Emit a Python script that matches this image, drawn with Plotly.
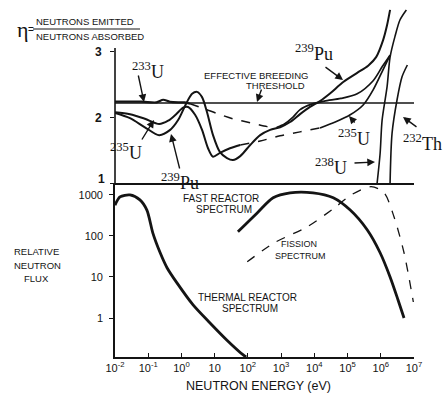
import plotly.graph_objects as go

# ---------------- data (log10 of neutron energy in eV, value) ----------------
# top panel: eta = neutrons emitted / neutrons absorbed
threshold_logE = [-2.0, 7.0]
threshold_eta = [2.22, 2.22]

pu239_logE = [-2.0, -1.55, -1.10, -0.67, -0.34, -0.10, 0.14, 0.32, 0.47, 0.62, 0.77, 0.95,
              1.16, 1.37, 1.55, 1.77, 2.07, 2.37, 2.67, 2.97, 3.27, 3.57, 3.87, 4.17, 4.48,
              4.87, 5.29, 5.62, 5.86, 6.07, 6.19, 6.28]
pu239_eta = [2.07, 1.99, 1.85, 1.73, 1.81, 1.96, 2.21, 2.36, 2.39, 2.31, 2.08, 1.73,
             1.47, 1.38, 1.35, 1.41, 1.58, 1.73, 1.81, 1.85, 1.93, 2.05, 2.16, 2.25, 2.37,
             2.54, 2.68, 2.79, 2.92, 3.18, 3.41, 3.64]

u235_logE_a = [-2.0, -1.55, -1.10, -0.67, -0.40, -0.16, 0.05, 0.20, 0.41, 0.62, 0.80, 0.95,
               1.16, 1.46, 1.77]
u235_eta_a = [2.08, 2.05, 1.98, 1.90, 1.95, 2.05, 2.15, 2.16, 2.04, 1.81, 1.53, 1.40,
              1.46, 1.53, 1.58]
u235_logE_dash = [1.77, 2.37, 2.97, 3.57, 4.17]
u235_eta_dash = [1.58, 1.64, 1.72, 1.78, 1.84]
u235_logE_b = [4.17, 4.63, 5.08, 5.47, 5.77, 6.07, 6.28]
u235_eta_b = [1.84, 1.93, 2.04, 2.19, 2.42, 2.73, 2.95]

u233_logE_a = [-2.0, -1.2, -0.75, -0.55, -0.35, -0.10, 0.10, 0.26]
u233_eta_a = [2.24, 2.24, 2.23, 2.27, 2.24, 2.23, 2.23, 2.21]
u233_logE_dash = [0.26, 0.70, 1.07, 1.55, 2.07, 2.58, 2.88]
u233_eta_dash = [2.21, 2.13, 2.06, 1.98, 1.92, 1.86, 1.85]
u233_logE_b = [2.88, 3.10, 3.35, 3.57, 3.90, 4.30, 4.80, 5.29, 5.77, 6.05, 6.28]
u233_eta_b = [1.85, 1.90, 2.00, 2.12, 2.20, 2.25, 2.29, 2.36, 2.56, 2.78, 2.95]

u238_logE = [5.89, 5.98, 6.04, 6.19, 6.28, 6.43, 6.58, 6.77]
u238_eta = [1.00, 1.45, 1.96, 2.47, 2.92, 3.24, 3.49, 3.64]

th232_logE = [6.28, 6.34, 6.49, 6.64, 6.80]
th232_eta = [1.00, 1.76, 2.27, 2.62, 2.80]

# bottom panel: relative neutron flux (log10 of flux)
thermal_logE = [-2.0, -1.85, -1.55, -1.25, -1.04, -0.86, -0.64, -0.43, -0.13, 0.35, 0.86,
                1.37, 1.86, 1.95]
thermal_logF = [2.75, 2.95, 3.00, 2.88, 2.63, 2.07, 1.59, 1.22, 0.85, 0.32, -0.12,
                -0.54, -0.90, -0.95]

fast_logE = [1.70, 2.28, 2.76, 3.27, 3.96, 4.57, 5.08, 5.59, 5.98, 6.28, 6.52, 6.70]
fast_logF = [2.10, 2.56, 2.93, 3.05, 3.05, 2.93, 2.63, 2.15, 1.59, 1.00, 0.44, 0.00]

fission_logE = [1.98, 2.79, 3.78, 4.60, 5.11, 5.71, 6.10, 6.40, 6.70, 6.98]
fission_logF = [1.37, 1.83, 2.22, 2.68, 3.00, 3.20, 3.05, 2.46, 1.59, 0.39]

# ticks
x_exponents = [-2, -1, 0, 1, 2, 3, 4, 5, 6, 7]
x_ticktext = ["10<sup>-2</sup>", "10<sup>-1</sup>", "10<sup>0</sup>", "10",
              "10<sup>2</sup>", "10<sup>3</sup>", "10<sup>4</sup>", "10<sup>5</sup>",
              "10<sup>6</sup>", "10<sup>7</sup>"]
eta_ticks = [1, 2, 3]
eta_ticktext = ["", "2", "3"]
flux_ticks = [1, 10, 100, 1000]
flux_ticktext = ["1", "10", "100", "1000"]

# ---------------- figure ----------------
W, H = 448, 395
INK = "#141414"


def e(v):
    return [10 ** a for a in v]


def P(px, py):
    return px / W, 1 - py / H


fig = go.Figure()


def top(xs, ys, width=1.8, dash="solid"):
    fig.add_trace(go.Scatter(x=e(xs), y=ys, mode="lines", xaxis="x", yaxis="y",
                             line=dict(color=INK, width=width, dash=dash, shape="spline",
                                       smoothing=0.8),
                             hoverinfo="skip", showlegend=False))


def bottom(xs, ys, width=2.6, dash="solid"):
    fig.add_trace(go.Scatter(x=e(xs), y=e(ys), mode="lines", xaxis="x2", yaxis="y2",
                             line=dict(color=INK, width=width, dash=dash, shape="spline",
                                       smoothing=0.8),
                             hoverinfo="skip", showlegend=False))


top(threshold_logE, threshold_eta, 1.6)
top(u233_logE_a, u233_eta_a, 2.2)
top(u233_logE_dash, u233_eta_dash, 1.5, "dash")
top(u233_logE_b, u233_eta_b, 1.7)
top(u235_logE_a, u235_eta_a, 2.0)
top(u235_logE_dash, u235_eta_dash, 1.5, "dash")
top(u235_logE_b, u235_eta_b, 1.7)
top(pu239_logE, pu239_eta, 2.0)
top(u238_logE, u238_eta, 1.6)
top(th232_logE, th232_eta, 1.6)

bottom(thermal_logE, thermal_logF, 2.8)
bottom(fast_logE, fast_logF, 2.8)
bottom(fission_logE, fission_logF, 1.3, "dash")

xdom = [115 / W, 414 / W]
tick_font = dict(family="Liberation Sans, Arial, sans-serif", size=11, color=INK)

fig.update_layout(
    width=W, height=H,
    margin=dict(l=0, r=0, t=0, b=0, autoexpand=False),
    paper_bgcolor="white", plot_bgcolor="white",
    showlegend=False,
    xaxis=dict(domain=xdom, type="log", range=[-2, 7.0], anchor="y",
               showgrid=False, zeroline=False, showticklabels=False, ticks="",
               showline=True, linecolor=INK, linewidth=1.6),
    yaxis=dict(domain=[1 - 183 / H, 1 - 6 / H], range=[1, 3.70], anchor="x",
               showgrid=False, zeroline=False, showline=False,
               tickmode="array", tickvals=eta_ticks, ticktext=eta_ticktext,
               ticks="outside", ticklen=4,
               tickwidth=1.2, tickcolor=INK, ticklabelstandoff=6,
               tickfont=dict(family="Liberation Sans, Arial, sans-serif", size=12,
                             color=INK, weight="bold")),
    xaxis2=dict(domain=xdom, type="log", range=[-2, 7.0], anchor="y2",
                showgrid=False, zeroline=False, showline=True, linecolor=INK,
                linewidth=1.6, tickmode="array", tickvals=e(x_exponents),
                ticktext=x_ticktext, ticks="inside", ticklen=4, tickwidth=1.2,
                tickcolor=INK, tickfont=tick_font),
    yaxis2=dict(domain=[1 - 357 / H, 1 - 183 / H], type="log", range=[-0.95, 3.29],
                anchor="x2", showgrid=False, zeroline=False, showline=True,
                linecolor=INK, linewidth=1.6, tickmode="array", tickvals=flux_ticks,
                ticktext=flux_ticktext, ticks="outside", ticklen=4, tickwidth=1.2,
                tickcolor=INK, ticklabelstandoff=4, tickfont=tick_font),
)

# left axis line of the top panel (only up to just above 3)
fig.add_shape(type="line", xref="x domain", yref="y", x0=0, x1=0, y0=1, y1=3.06,
              line=dict(color=INK, width=1.6))

sans = "Liberation Sans, Arial, sans-serif"
serif = "Liberation Serif, DejaVu Serif, serif"


def label(text, px, py, size=8.5, family=sans, xanchor="center", weight="normal"):
    x, y = P(px, py)
    fig.add_annotation(x=x, y=y, xref="paper", yref="paper", text=text, showarrow=False,
                       xanchor=xanchor, yanchor="middle", align="left",
                       font=dict(family=family, size=size, color=INK, weight=weight))


def arrow(tail, tip):
    x, y = P(*tip)
    fig.add_annotation(x=x, y=y, xref="paper", yref="paper", text="", showarrow=True,
                       ax=tail[0] - tip[0], ay=tail[1] - tip[1], arrowhead=2,
                       arrowsize=1.1, arrowwidth=1.4, arrowcolor=INK)


# "1" of the eta axis, lifted slightly above the shared base line
label("1", 101, 179, size=12, weight="bold")

# eta definition
label("η", 23, 30, size=22, family=serif)
label("=", 31, 30, size=10, family=sans)
label("NEUTRONS EMITTED", 34, 22, size=9.5, xanchor="left")
label("NEUTRONS ABSORBED", 34, 36, size=9.5, xanchor="left")
fig.add_shape(type="line", xref="paper", yref="paper",
              x0=P(33, 29)[0], x1=P(140, 29)[0], y0=P(33, 29)[1], y1=P(140, 29)[1],
              line=dict(color=INK, width=1))

label("RELATIVE", 12, 252, size=9.5, xanchor="left")
label("NEUTRON", 12, 265, size=9.5, xanchor="left")
label("FLUX", 22, 278, size=9.5, xanchor="left")

label("NEUTRON ENERGY (eV)", 258, 386, size=12.5)

label("EFFECTIVE BREEDING", 256, 75, size=9.5)
label("THRESHOLD", 275, 85, size=9.5)

label("FAST REACTOR", 221, 198, size=10)
label("SPECTRUM", 224, 209, size=10)
label("FISSION", 299, 244, size=9)
label("SPECTRUM", 300, 256, size=9)
label("THERMAL REACTOR", 247, 297, size=10)
label("SPECTRUM", 250, 308, size=10)

# isotope labels
iso = 18
label("<sup>233</sup>U", 148, 70, size=iso, family=serif)
label("<sup>235</sup>U", 126, 151, size=iso, family=serif)
label("<sup>239</sup>Pu", 180, 181, size=iso, family=serif)
label("<sup>239</sup>Pu", 314, 52, size=iso, family=serif)
label("<sup>235</sup>U", 354, 137, size=iso, family=serif)
label("<sup>238</sup>U", 331, 166, size=iso, family=serif)
label("<sup>232</sup>Th", 401, 143, size=iso, family=serif, xanchor="left")

arrow((138, 74), (144, 102))
arrow((262, 88), (257, 102))
arrow((324, 66), (343, 80))
arrow((356, 124), (349, 116))
arrow((418, 128), (403, 117))
arrow((353, 163), (375, 162))
arrow((141, 141), (154, 120))
arrow((180, 170), (171, 134))

fig.write_html("out.html", config={"displayModeBar": False},
               post_script="document.body.style.margin='0';document.body.style.padding='0';")
